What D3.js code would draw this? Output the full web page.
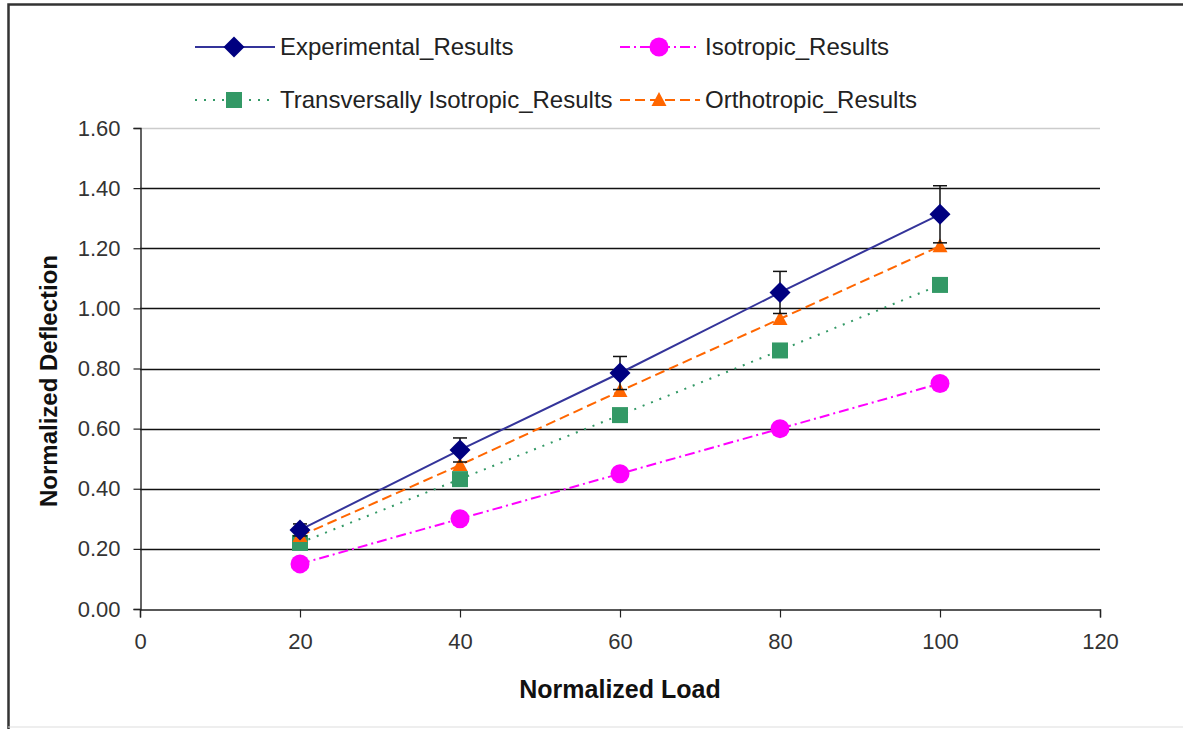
<!DOCTYPE html>
<meta charset="utf-8">
<body style="margin:0;background:#fff">
<script src="https://d3js.org/d3.v7.min.js"></script>
<script>

  let width = 1183,
    height = 729;

  // chart data
  let loads = [20, 40, 60, 80, 100];
  let experimental = [0.263, 0.529, 0.785, 1.053, 1.313];
  let expError = [0.02, 0.04, 0.055, 0.07, 0.095];
  let isotropic = [0.15, 0.30, 0.45, 0.60, 0.75];
  let transversely = [0.22, 0.432, 0.645, 0.86, 1.078];
  let orthotropic = [0.243, 0.479, 0.725, 0.965, 1.207];
  let xTicks = [0, 20, 40, 60, 80, 100, 120];
  let yTicks = [0, 0.2, 0.4, 0.6, 0.8, 1.0, 1.2, 1.4, 1.6];

  let series = [
    {name: "Experimental_Results", values: experimental, color: "#000080", line: "#34349a", dash: null, marker: "diamond"},
    {name: "Isotropic_Results", values: isotropic, color: "#ff00ff", line: "#ff00ff", dash: "10,4,2,4", marker: "circle"},
    {name: "Transversally Isotropic_Results", values: transversely, color: "#339966", line: "#339966", dash: "2,7", marker: "square"},
    {name: "Orthotropic_Results", values: orthotropic, color: "#ff6600", line: "#ff6600", dash: "10,5", marker: "triangle"}
  ];

  let font = "'Liberation Sans', Arial, sans-serif";

  let svg = d3.select("body").append("svg")
    .attr("width", width)
    .attr("height", height)
    .style("font-family", font);

  // frame
  svg.append("path")
    .attr("d", "M8.5," + height + "V4.5H" + width)
    .attr("fill", "none").attr("stroke", "#333").attr("stroke-width", 2.5);
  svg.append("line")
    .attr("x1", 8).attr("x2", width).attr("y1", 727).attr("y2", 727)
    .attr("stroke", "#ddd");

  let x = d3.scaleLinear().domain([0, 120]).range([140, 1100]);
  let y = d3.scaleLinear().domain([0, 1.6]).range([609, 128]);

  // gridlines
  svg.append("g").selectAll("line")
    .data(yTicks.slice(1))
    .enter().append("line")
    .attr("x1", 140).attr("x2", 1100)
    .attr("y1", d => Math.round(y(d)) + 0.5).attr("y2", d => Math.round(y(d)) + 0.5)
    .attr("stroke", d => d > 1.5 ? "#ccc" : "#111")
    .attr("stroke-width", 1.4);

  let yAxis = svg.append("g")
    .attr("transform", "translate(140.5,0)")
    .call(d3.axisLeft(y).tickValues(yTicks).tickFormat(d3.format(".2f")).tickSize(7).tickPadding(13));
  let xAxis = svg.append("g")
    .attr("transform", "translate(0," + (Math.round(y(0)) + 0.5) + ")")
    .call(d3.axisBottom(x).tickValues(xTicks).tickSize(8).tickPadding(16));

  [yAxis, xAxis].forEach(function(g) {
    g.select(".domain").attr("stroke", "#222").attr("stroke-width", 1.4);
    g.selectAll(".tick line").attr("stroke", "#222").attr("stroke-width", 1.2);
    g.selectAll("text").attr("fill", "#333").style("font-size", "22px").style("font-family", font);
  });

  // axis titles
  svg.append("text")
    .attr("x", 620).attr("y", 698)
    .attr("text-anchor", "middle")
    .attr("fill", "#111")
    .style("font-size", "25px").style("font-weight", "bold")
    .text("Normalized Load");
  svg.append("text")
    .attr("transform", "translate(57,381) rotate(-90)")
    .attr("text-anchor", "middle")
    .attr("fill", "#111")
    .style("font-size", "24px").style("font-weight", "bold")
    .text("Normalized Deflection");

  let line = d3.line()
    .x((d, i) => x(loads[i]))
    .y(d => y(d));

  function drawMarker(g, type, color) {
    if (type === "diamond") {
      g.append("path").attr("d", "M0,-10.5L10.5,0L0,10.5L-10.5,0Z").attr("fill", color);
    } else if (type === "circle") {
      g.append("circle").attr("r", 9.5).attr("fill", color);
    } else if (type === "square") {
      g.append("rect").attr("x", -8).attr("y", -8).attr("width", 16).attr("height", 16).attr("fill", color);
    } else {
      g.append("path").attr("d", "M0,-8L7.5,6L-7.5,6Z").attr("fill", color);
    }
  }

  // draw series: back to front
  let order = [1, 2, 3, 0];
  order.forEach(function(k) {
    let s = series[k];
    svg.append("path")
      .attr("d", line(s.values))
      .attr("fill", "none")
      .attr("stroke", s.line)
      .attr("stroke-width", 2)
      .attr("stroke-dasharray", s.dash);

    if (k === 0) {
      let eb = svg.append("g").selectAll("g")
        .data(s.values)
        .enter().append("g")
        .attr("stroke", "#111").attr("stroke-width", 1.5);
      eb.append("line")
        .attr("x1", (d, i) => x(loads[i])).attr("x2", (d, i) => x(loads[i]))
        .attr("y1", (d, i) => y(d - expError[i])).attr("y2", (d, i) => y(d + expError[i]));
      [-1, 1].forEach(function(sg) {
        eb.append("line")
          .attr("x1", (d, i) => x(loads[i]) - 7).attr("x2", (d, i) => x(loads[i]) + 7)
          .attr("y1", (d, i) => y(d + sg * expError[i])).attr("y2", (d, i) => y(d + sg * expError[i]));
      });
    }

    s.values.forEach(function(v, i) {
      let g = svg.append("g").attr("transform", "translate(" + x(loads[i]) + "," + y(v) + ")");
      drawMarker(g, s.marker, s.color);
    });
  });

  // legend
  let legendPos = [[195, 47], [620, 47], [195, 100], [620, 100]];
  series.forEach(function(s, k) {
    let lx = legendPos[k][0], ly = legendPos[k][1];
    let g = svg.append("g").attr("transform", "translate(" + lx + "," + ly + ")");
    g.append("line")
      .attr("x1", 0).attr("x2", 80).attr("y1", 0).attr("y2", 0)
      .attr("stroke", s.line).attr("stroke-width", 2)
      .attr("stroke-dasharray", s.dash);
    let m = g.append("g").attr("transform", "translate(39,0)");
    drawMarker(m, s.marker, s.color);
    g.append("text")
      .attr("x", 85).attr("y", 8)
      .attr("fill", "#222")
      .style("font-size", "24px")
      .text(s.name);
  });

</script>
